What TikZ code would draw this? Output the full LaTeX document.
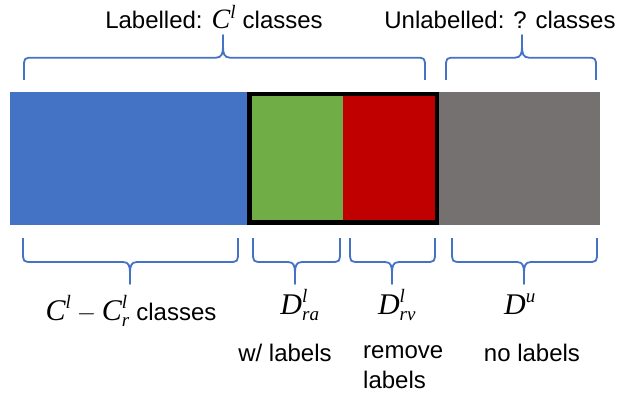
\documentclass[tikz,border=0pt]{standalone}
\usepackage{fontspec}
\setmainfont{Liberation Sans}
\newfontfamily\tnr{Liberation Serif}
\definecolor{segblue}{HTML}{4472C4}
\definecolor{seggreen}{HTML}{70AD47}
\definecolor{segred}{HTML}{C00000}
\definecolor{seggrey}{HTML}{767171}
\definecolor{brccol}{HTML}{4472C4}
\newcommand{\mi}[1]{\mbox{\tnr\itshape #1}}
\newcommand{\ms}[1]{\mbox{\tnr\itshape\fontsize{19}{19}\selectfont #1}}
% brace: x1 x2 xtip yend yh ytip
\newcommand{\mybrace}[6]{%
  \draw[brc] (#1,#4) -- ({#1},{#5+0.45*(#4-#5)}) .. controls (#1,#5) .. ({#1+10},#5)
    -- ({#3-7},#5) .. controls ({#3-1},#5) and (#3,{#5+0.2*(#6-#5)}) .. (#3,{#5+0.5*(#6-#5)}) -- (#3,#6)
    -- (#3,{#5+0.5*(#6-#5)}) .. controls (#3,{#5+0.2*(#6-#5)}) and ({#3+1},#5) .. ({#3+7},#5)
    -- ({#2-10},#5) .. controls (#2,#5) .. (#2,{#5+0.45*(#4-#5)}) -- (#2,#4);}
\tikzset{
  brc/.style={draw=brccol, line width=1.8pt, line join=round},
  txt/.style={inner sep=0pt, anchor=base, font=\fontsize{24}{28}\selectfont},
  mth/.style={inner sep=0pt, anchor=base, font=\fontsize{30}{32}\selectfont},
}
\begin{document}
\begin{tikzpicture}[x=1pt,y=-1pt]
\useasboundingbox (0,0) rectangle (623,395);
% bar
\fill[segblue] (10,92) rectangle (247,225);
\fill[seggreen] (247,92) rectangle (343,225);
\fill[segred] (343,92) rectangle (437,225);
\fill[seggrey] (437,92) rectangle (600,225);
\draw[line width=4.5pt] (249.25,94.25) rectangle (436.75,222.75);
% top braces
\mybrace{24}{425}{223}{80}{57.7}{35}
\mybrace{446}{596}{522}{80}{57.7}{35}
% bottom braces
\mybrace{23}{238}{130}{238}{262}{284}
\mybrace{253}{340}{295}{238}{262}{284}
\mybrace{350}{435}{392}{238}{262}{284}
\mybrace{452}{597}{524}{238}{262}{284}
% top labels
\node[txt] (lab) at (214,29) {Labelled: {\fontsize{28}{28}\selectfont$\mi{C}^{\ms{l}}$} classes};
\node[txt] (unl) at (500,29) {Unlabelled: ? classes};
% bottom labels
\node[txt] (cl) at (131,320) {{\fontsize{30}{32}\selectfont$\mi{C}^{\ms{l}} - \mi{C}^{\ms{l}}_{\ms{r}}$} classes};
\node[mth] (dra) at (300,314) {$\mi{D}^{\ms{l}}_{\ms{ra}}$};
\node[mth] (drv) at (397,314) {$\mi{D}^{\ms{l}}_{\ms{rv}}$};
\node[mth] (du) at (520,314) {$\mi{D}^{\ms{u}}$};
\node[txt] (wl) at (285,361) {w/ labels};
\node[txt, anchor=base west] (rm) at (363,358) {remove};
\node[txt, anchor=base west] (rl) at (363,388) {labels};
\node[txt] (nl) at (532,361) {no labels};
\end{tikzpicture}
\end{document}
